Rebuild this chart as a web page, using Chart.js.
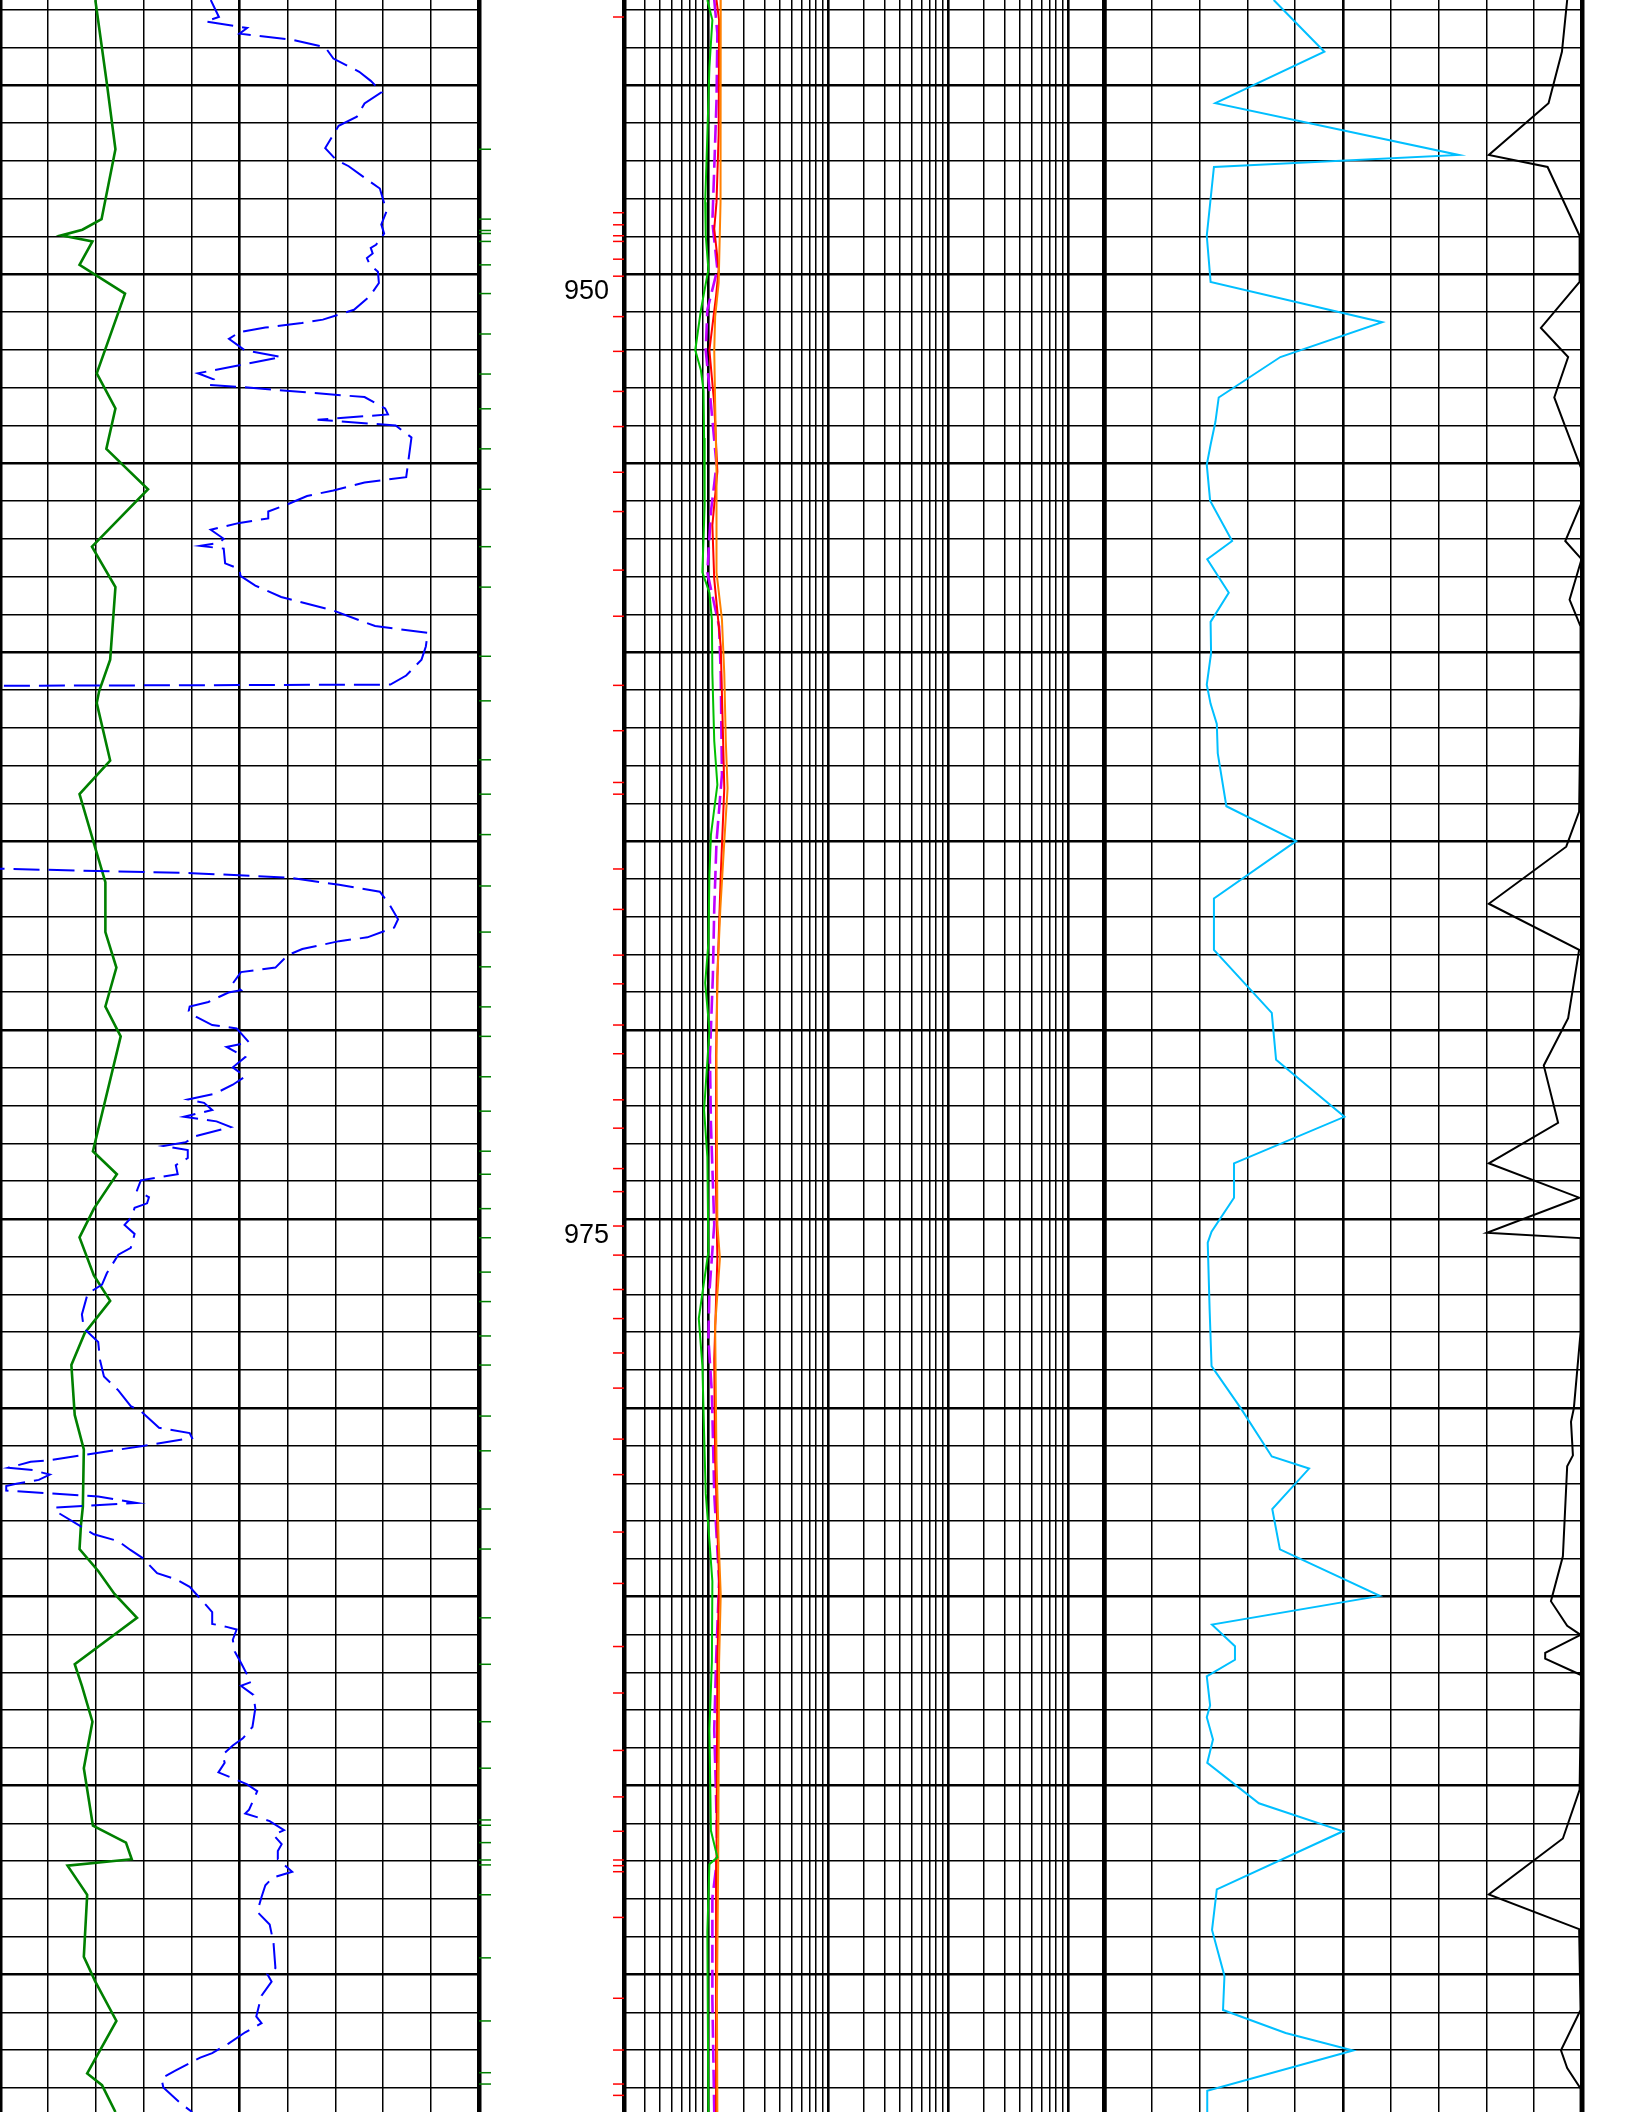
<!DOCTYPE html>
<html>
<head>
<meta charset="utf-8">
<title>Well log</title>
<script src="https://cdn.jsdelivr.net/npm/chart.js@4.4.0/dist/chart.umd.min.js"></script>
<style>
  html, body { margin: 0; padding: 0; background: #fff; overflow: hidden; }
  body { width: 1632px; height: 2112px; position: relative; }
  canvas { position: absolute; top: 0; }
</style>
</head>
<body>
<canvas id="trk1" width="489" height="2112" style="left:-5px"></canvas>
<canvas id="trk2" width="490" height="2112" style="left:619px"></canvas>
<canvas id="trk3" width="488" height="2112" style="left:1099px"></canvas>
<canvas id="depth" width="145" height="2112" style="left:479px"></canvas>
<script>
// depth window shown on the page
var depthTop = 942.74;
var depthBottom = 998.64;

// depth labels in the depth track
var depthLabels = [950, 975];

// sample marks in the depth track
var greenMarks = [946.69, 948.54, 948.84, 948.92, 949.13, 949.75, 950.51, 951.58, 952.64, 953.56, 954.62, 955.69,
  957.21, 958.28, 960.11, 961.29, 962.85, 963.76, 964.83, 966.19, 967.41, 968.33, 969.39, 970.17, 971.24, 972.15,
  973.21, 973.82, 974.73, 975.50, 976.41, 977.19, 978.10, 978.87, 980.22, 981.14, 982.68, 983.74, 985.56, 986.79,
  988.31, 989.54, 990.91, 991.05, 991.51, 991.97, 992.10, 992.89, 994.56, 996.23, 997.60, 997.90];
var redMarks = [943.19, 948.37, 948.69, 948.98, 949.13, 949.60, 950.05, 951.12, 952.04, 953.10, 954.03, 955.24,
  956.28, 957.83, 959.05, 960.88, 962.08, 963.45, 963.76, 965.74, 966.81, 968.02, 968.78, 969.87, 970.63, 971.85,
  972.60, 973.67, 974.28, 975.19, 975.96, 976.87, 977.64, 978.55, 979.48, 980.83, 981.77, 983.29, 984.65, 986.32,
  987.55, 989.07, 990.30, 991.21, 991.97, 992.12, 992.28, 993.49, 995.63, 997.00, 997.90, 998.20];

// track 1 (linear 0-100): [depth, value]
var trk1Green = [[942.74,19.9],[944.94,22.3],[946.69,24.1],[948.54,21.2],[948.82,17.2],[948.97,12.8],[949.13,19.3],
  [949.75,16.6],[950.51,26.1],[952.62,20.2],[953.55,24.1],[954.62,22.2],[955.69,30.9],[957.21,19.2],[958.28,24.1],
  [960.2,23.0],[961.03,20.7],[961.35,20.2],[962.87,23.0],[963.76,16.6],[965.36,20.3],[966.09,22.0],[967.41,22.0],
  [968.35,24.3],[969.38,22.0],[970.17,25.2],[973.21,19.4],[973.82,24.4],[974.73,19.6],[975.49,16.6],[976.50,19.6],
  [977.17,23.0],[978.02,17.7],[978.87,14.9],[980.19,15.6],[981.10,17.5],[982.62,17.3],[983.10,16.9],[983.74,16.6],
  [984.32,20.5],[984.93,23.9],[985.56,28.6],[986.79,15.6],[987.36,17.1],[988.31,19.3],[989.54,17.5],[991.06,19.4],
  [991.51,26.3],[991.95,27.5],[992.12,14.1],[992.89,18.2],[994.53,17.5],[995.19,19.9],[996.23,24.3],[997.62,18.2],
  [997.93,21.3],[998.64,24.1]];

var trk1Blue = [[942.74,44.0],[943.19,45.7],[943.31,42.9],[943.48,51.6],[943.63,50.0],[943.79,60.9],[943.99,67.9],
  [944.29,69.6],[944.64,75.0],[944.88,77.4],[945.18,79.7],[945.48,76.1],[945.83,74.5],[946.07,70.7],[946.66,67.9],
  [946.96,70.1],[947.14,72.8],[947.49,76.6],[947.73,79.3],[948.33,80.7],[948.68,79.6],[948.92,80.2],[949.22,78.5],
  [949.30,77.4],[949.45,77.8],[949.57,76.6],[949.75,77.2],[949.93,78.9],[950.23,79.1],[950.58,77.2],[950.94,73.9],
  [951.20,67.4],[951.29,63.0],[951.41,55.4],[951.53,50.0],[951.71,47.8],[952.01,51.1],[952.19,58.7],[952.62,41.3],
  [952.78,44.6],[952.93,43.5],[952.98,50.0],[953.25,76.1],[953.55,80.4],[953.71,81.0],[953.85,66.3],[954.00,82.6],
  [954.32,85.9],[955.37,84.8],[955.51,76.1],[955.72,69.6],[955.87,64.1],[956.10,59.8],[956.28,56.0],[956.46,56.0],
  [956.58,50.0],[956.76,44.0],[957.00,46.7],[957.11,45.7],[957.19,41.8],[957.26,46.7],[957.65,47.0],[957.80,50.0],
  [957.98,50.2],[958.24,53.3],[958.54,58.7],[958.90,69.6],[959.31,78.3],[959.49,89.3],[959.85,88.9],[960.20,88.0],
  [960.62,84.8],[960.86,81.5],[960.95,-150],[965.30,-150],[965.85,40.1],[965.97,60.5],[966.16,70.8],[966.34,79.3],
  [966.70,81.4],[967.07,83.1],[967.29,82.3],[967.55,76.7],[967.65,70.8],[967.86,63.1],[968.02,60.1],[968.35,57.5],
  [968.47,50.3],[968.77,48.6],[968.95,50.3],[969.01,47.7],[969.26,43.5],[969.38,39.6],[969.50,39.4],[969.65,40.9],
  [969.87,44.3],[969.96,49.4],[970.33,52.0],[970.45,47.3],[970.72,51.2],[970.99,48.6],[971.23,51.2],[971.45,48.6],
  [971.69,44.8],[971.84,39.2],[971.93,42.6],[972.12,44.3],[972.30,38.4],[972.42,45.2],[972.57,48.2],[972.81,40.9],
  [972.97,38.8],[973.07,34.1],[973.18,39.2],[973.39,39.2],[973.58,36.7],[973.82,37.1],[973.98,29.4],[974.25,28.6],
  [974.43,31.1],[974.59,30.7],[974.71,28.1],[974.95,27.5],[975.16,26.0],[975.40,28.1],[975.77,27.3],[975.95,24.7],
  [976.44,22.3],[976.74,21.3],[976.98,18.3],[977.53,17.1],[977.90,17.5],[978.26,20.5],[978.75,20.9],[979.17,21.7],
  [979.54,24.7],[979.96,27.3],[980.09,29.4],[980.53,33.2],[980.67,39.6],[980.80,40.1],[981.01,29.8],[981.40,9.8],
  [981.43,6.4],[981.59,1.7],[981.65,6.8],[981.77,10.4],[981.91,8.1],[982.01,3.4],[982.07,1.3],[982.19,1.3],
  [982.35,20.5],[982.52,28.6],[982.64,11.5],[982.76,11.9],[983.35,19.6],[983.53,24.7],[983.77,27.3],[983.98,29.8],
  [984.38,32.8],[984.54,36.7],[984.74,39.6],[985.05,41.8],[985.41,44.3],[985.72,44.3],[985.80,47.3],[985.87,49.4],
  [986.14,48.6],[986.45,49.0],[986.75,50.3],[987.26,52.4],[987.36,50.3],[987.60,52.9],[987.96,53.3],[988.45,52.7],
  [988.75,50.7],[988.94,48.6],[989.18,46.5],[989.40,46.9],[989.65,45.6],[989.85,49.4],[989.97,51.6],[990.15,53.7],
  [990.64,52.0],[990.74,51.2],[990.94,56.3],[991.18,59.3],[991.31,57.1],[991.55,58.8],[991.73,58.0],[991.95,58.0],
  [992.28,61.0],[992.44,56.9],[992.64,55.4],[992.95,54.6],[993.34,53.7],[993.68,56.3],[994.16,57.1],[994.50,57.3],
  [994.83,57.5],[994.99,55.8],[995.19,56.7],[995.56,54.6],[996.11,53.5],[996.29,54.6],[996.53,51.2],[996.83,47.7],
  [997.08,44.3],[997.20,41.8],[997.54,36.7],[997.75,33.7],[997.99,34.1],[998.39,37.5],[998.64,40.1]];

// track 2 (logarithmic 0.2-2000): [depth, value]
var trk2Green = [[942.74,0.99],[943.27,1.09],[944.52,1.03],[946.30,0.99],[948.09,0.95],[948.98,0.96],[949.87,1.01],
  [950.94,0.875],[952.01,0.785],[952.54,0.875],[953.08,0.92],[954.33,0.93],[956.11,0.94],[957.89,0.90],[958.43,1.03],
  [959.14,1.08],[960.57,1.09],[962.35,1.13],[963.51,1.20],[964.84,1.06],[965.91,1.03],[967.70,1.01],[968.76,0.95],
  [970.01,1.03],[972.12,0.93],[973.36,0.99],[975.86,1.01],[977.64,0.84],[978.89,0.90],[980.67,0.93],[982.28,0.96],
  [983.52,1.03],[984.59,1.09],[986.73,1.08],[988.51,1.03],[991.19,1.06],[991.90,1.20],[992.08,1.03],[993.86,0.99],
  [998.64,1.01]];
var trk2Violet = [[942.74,1.13],[943.63,1.20],[945.41,1.18],[947.20,1.13],[948.62,1.09],[949.87,1.20],[950.94,0.99],
  [952.01,0.96],[953.43,1.06],[955.04,1.18],[956.29,1.06],[957.89,0.99],[959.32,1.24],[960.57,1.28],[963.24,1.31],
  [965.02,1.18],[966.80,1.13],[968.59,1.10],[970.69,1.04],[972.47,1.06],[975.15,1.13],[976.93,1.03],[978.18,1.01],
  [979.60,1.08],[982.28,1.13],[984.59,1.24],[986.73,1.17],[988.51,1.13],[990.30,1.17],[991.90,1.20],[992.97,1.09],
  [995.65,1.09],[998.64,1.13]];
var trk2Red = [[942.74,1.18],[943.27,1.24],[946.30,1.23],[948.09,1.18],[948.80,1.13],[949.87,1.23],[950.58,1.17],
  [952.01,1.03],[953.43,1.13],[955.22,1.20],[956.64,1.09],[958.07,1.13],[959.85,1.28],[962.35,1.34],[963.60,1.37],
  [965.91,1.28],[968.59,1.20],[970.69,1.17],[974.26,1.17],[976.04,1.20],[978.71,1.13],[981.39,1.15],[984.59,1.24],
  [986.73,1.20],[991.90,1.18],[993.86,1.17],[998.64,1.17]];
var trk2Orange = [[942.74,1.28],[944.52,1.28],[948.09,1.27],[950.23,1.23],[951.12,1.15],[952.01,1.13],[953.43,1.15],
  [955.22,1.18],[957.89,1.18],[959.14,1.31],[960.57,1.37],[962.35,1.41],[963.60,1.46],[965.02,1.37],[966.80,1.27],
  [968.59,1.20],[970.69,1.18],[975.15,1.20],[976.04,1.26],[977.82,1.15],[981.39,1.18],[983.52,1.23],[984.95,1.28],
  [986.73,1.24],[989.40,1.23],[991.90,1.22],[995.65,1.19],[998.64,1.20]];

// track 3 (linear 0-100): [depth, value]
var trk3Cyan = [[942.74,35.5],[944.11,46.1],[945.47,23.3],[946.84,74.2],[947.16,23.0],[948.98,21.5],[950.20,22.3],
  [951.27,58.2],[952.19,36.9],[953.26,24.0],[953.91,23.3],[954.51,22.3],[955.04,21.5],[955.99,22.2],[957.06,26.8],
  [957.54,21.6],[958.43,26.1],[959.20,22.3],[960.03,22.4],[960.86,21.5],[961.37,22.3],[961.90,23.6],[962.68,23.8],
  [964.08,25.6],[965.00,40.2],[966.52,23.0],[967.88,23.0],[969.55,35.1],[970.79,36.0],[972.30,50.3],[973.53,27.2],
  [974.44,27.2],[975.34,22.5],[975.63,21.7],[977.41,22.1],[978.90,22.5],[980.01,28.6],[981.29,35.1],[981.61,42.9],
  [982.68,35.2],[983.75,36.8],[984.98,57.7],[985.74,22.6],[986.31,27.4],[986.67,27.4],[987.11,21.5],[987.88,22.2],
  [988.19,21.5],[988.78,22.8],[989.40,21.6],[990.47,32.4],[991.21,50.0],[992.75,23.6],[993.82,22.6],[995.04,25.2],
  [995.94,24.9],[996.55,38.0],[997.01,52.1],[998.08,21.6],[998.65,21.6]];
var trk3Black = [[942.74,96.9],[944.11,95.8],[945.47,93.0],[946.84,80.5],[947.16,92.8],[948.98,99.5],[950.20,99.5],
  [951.42,91.4],[952.19,97.1],[953.26,94.2],[954.03,96.5],[955.16,99.9],[956.05,99.9],[957.06,96.5],[957.54,99.9],
  [958.61,97.4],[959.32,99.7],[961.38,99.7],[964.22,99.4],[965.15,96.7],[966.66,80.5],[967.88,99.4],[969.69,97.1],
  [970.94,92.0],[972.46,95.0],[973.53,80.5],[974.44,99.4],[975.37,80.1],[975.51,99.7],[978.01,99.7],[980.01,98.3],
  [980.37,97.7],[981.26,98.1],[981.55,96.9],[983.93,96.0],[985.12,93.5],[985.77,96.9],[986.01,99.7],[986.49,92.3],
  [986.64,92.3],[987.08,99.9],[988.33,99.7],[990.11,99.5],[991.40,96.0],[992.88,80.5],[993.80,99.4],[995.94,99.7],
  [997.01,95.6],[997.48,96.9],[998.02,99.7],[998.65,99.7]];


function toPoints(arr) {
    return arr.map(function (p) { return { x: p[1], y: p[0] }; });
}

function curve(arr, color, width, dash) {
    return {
        data: toPoints(arr),
        showLine: true,
        borderColor: color,
        borderWidth: width,
        borderDash: dash || [],
        pointRadius: 0,
        tension: 0
    };
}

function noSpace(s) {
    if (s.isHorizontal()) { s.height = 0; } else { s.width = 0; }
    s.paddingTop = 0; s.paddingBottom = 0; s.paddingLeft = 0; s.paddingRight = 0;
}

function depthAxis() {
    return {
        type: 'linear',
        reverse: true,
        min: depthTop,
        max: depthBottom,
        afterBuildTicks: function (s) {
            var t = [];
            for (var d = Math.ceil(depthTop); d <= depthBottom; d++) t.push({ value: d });
            s.ticks = t;
        },
        afterFit: noSpace,
        ticks: { display: false, autoSkip: false },
        border: { display: false },
        grid: {
            drawTicks: false,
            color: '#000',
            lineWidth: function (c) { return c.tick && c.tick.value % 5 === 0 ? 2.4 : 1.4; }
        }
    };
}

function linearTrackAxis() {
    return {
        type: 'linear',
        min: 0,
        max: 100,
        afterBuildTicks: function (s) {
            var t = [];
            for (var v = 0; v <= 100; v += 10) t.push({ value: v });
            s.ticks = t;
        },
        afterFit: noSpace,
        ticks: { display: false, autoSkip: false },
        border: { display: false },
        grid: {
            drawTicks: false,
            color: '#000',
            lineWidth: function (c) {
                var v = c.tick ? c.tick.value : 0;
                if (v === 0 || v === 100) return 4.5;
                if (v === 50) return 2.6;
                return 1.5;
            }
        }
    };
}

function logTrackAxis() {
    return {
        type: 'logarithmic',
        min: 0.2,
        max: 2000,
        afterBuildTicks: function (s) {
            var t = [];
            for (var k = -1; k <= 3; k++) {
                for (var m = 1; m <= 9; m++) {
                    var v = m * Math.pow(10, k);
                    if (v >= 0.2 - 1e-9 && v <= 2000 + 1e-9) t.push({ value: v });
                }
            }
            s.ticks = t;
        },
        afterFit: noSpace,
        ticks: { display: false, autoSkip: false },
        border: { display: false },
        grid: {
            drawTicks: false,
            color: '#000',
            lineWidth: function (c) {
                if (!c.tick) return 1.5;
                var lg = Math.log10(c.tick.value);
                if (Math.abs(c.tick.value - 0.2) < 1e-6 || Math.abs(c.tick.value - 2000) < 1e-6) return 4.5;
                if (Math.abs(lg - Math.round(lg)) < 1e-6) return 2.6;
                return 1.5;
            }
        }
    };
}

function baseOptions(xAxis) {
    return {
        responsive: false,
        animation: false,
        events: [],
        layout: { autoPadding: false, padding: { left: 5, right: 5, top: 0, bottom: 0 } },
        plugins: { legend: { display: false }, tooltip: { enabled: false } },
        scales: { x: xAxis, y: depthAxis() }
    };
}

new Chart(document.getElementById('trk1'), {
    type: 'scatter',
    data: {
        datasets: [
            curve(trk1Blue, '#0000ff', 2, [26, 9]),
            curve(trk1Green, '#008000', 2.6)
        ]
    },
    options: baseOptions(linearTrackAxis())
});

new Chart(document.getElementById('trk2'), {
    type: 'scatter',
    data: {
        datasets: [
            curve(trk2Green, '#00c000', 2),
            curve(trk2Orange, '#ff8000', 2),
            curve(trk2Red, '#ff0000', 2),
            curve(trk2Violet, '#c000ff', 2.6, [18, 7])
        ]
    },
    options: baseOptions(logTrackAxis())
});

new Chart(document.getElementById('trk3'), {
    type: 'scatter',
    data: {
        datasets: [
            curve(trk3Cyan, '#00bfff', 2),
            curve(trk3Black, '#000000', 2)
        ]
    },
    options: baseOptions(linearTrackAxis())
});

// depth track: labels plus the short sample marks at both edges
new Chart(document.getElementById('depth'), {
    type: 'scatter',
    data: {
        datasets: [
            {
                data: greenMarks.map(function (d) { return { x: 0, y: d }; }),
                pointStyle: 'line', pointRadius: 12, pointBorderWidth: 1.5,
                pointBorderColor: '#008000', clip: false
            },
            {
                data: redMarks.map(function (d) { return { x: 1, y: d }; }),
                pointStyle: 'line', pointRadius: 11, pointBorderWidth: 1.5,
                pointBorderColor: '#ff0000', clip: false
            }
        ]
    },
    options: {
        responsive: false,
        animation: false,
        events: [],
        layout: { autoPadding: false, padding: 0 },
        plugins: { legend: { display: false }, tooltip: { enabled: false } },
        scales: {
            x: {
                type: 'linear', min: 0, max: 1,
                afterFit: noSpace,
                ticks: { display: false },
                grid: { display: false },
                border: { display: false }
            },
            y: {
                type: 'linear', reverse: true, min: depthTop, max: depthBottom,
                afterBuildTicks: function (s) {
                    s.ticks = depthLabels.map(function (v) { return { value: v }; });
                },
                afterFit: noSpace,
                grid: { display: false },
                border: { display: false },
                ticks: {
                    mirror: true,
                    padding: 85,
                    labelOffset: 17,
                    autoSkip: false,
                    color: '#000',
                    font: { family: 'Liberation Sans', size: 27 }
                }
            }
        }
    }
});
</script>
</body>
</html>
